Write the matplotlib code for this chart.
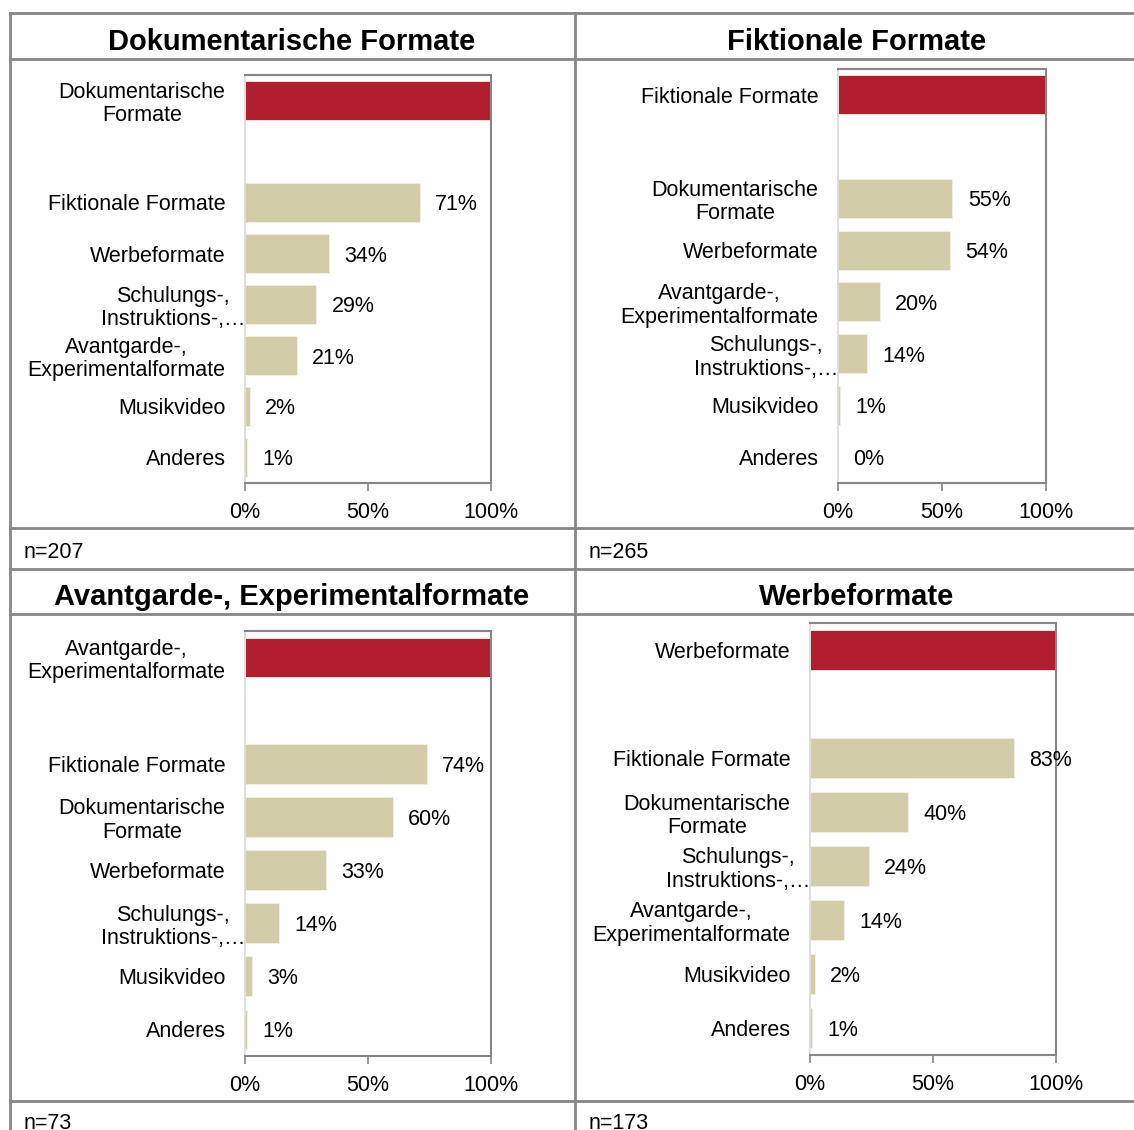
import numpy as np
import matplotlib.pyplot as plt
from matplotlib.lines import Line2D
from matplotlib.transforms import ScaledTranslation

plt.rcParams['font.family'] = ['Liberation Sans', 'DejaVu Sans']

W, H = 1134, 1130

titles = ['Dokumentarische Formate', 'Fiktionale Formate',
          'Avantgarde-, Experimentalformate', 'Werbeformate']
n_values = [207, 265, 73, 173]

# first entry of each list is the highlighted (red) category, then a gap
cats_dok = ['Dokumentarische\nFormate', 'Fiktionale Formate', 'Werbeformate',
            'Schulungs-,\nInstruktions-,…', 'Avantgarde-,\nExperimentalformate',
            'Musikvideo', 'Anderes']
vals_dok = [100, 71, 34, 29, 21, 2, 1]

cats_fik = ['Fiktionale Formate', 'Dokumentarische\nFormate', 'Werbeformate',
            'Avantgarde-,\nExperimentalformate', 'Schulungs-,\nInstruktions-,…',
            'Musikvideo', 'Anderes']
vals_fik = [100, 55, 54, 20, 14, 1, 0]

cats_ava = ['Avantgarde-,\nExperimentalformate', 'Fiktionale Formate',
            'Dokumentarische\nFormate', 'Werbeformate',
            'Schulungs-,\nInstruktions-,…', 'Musikvideo', 'Anderes']
vals_ava = [100, 74, 60, 33, 14, 3, 1]

cats_wer = ['Werbeformate', 'Fiktionale Formate', 'Dokumentarische\nFormate',
            'Schulungs-,\nInstruktions-,…', 'Avantgarde-,\nExperimentalformate',
            'Musikvideo', 'Anderes']
vals_wer = [100, 83, 40, 24, 14, 2, 1]

x_ticks = [0, 50, 100]
x_ticklabels = ['0%', '50%', '100%']

RED = '#b01e2f'
BEIGE = '#d2cda8'
GRID = '#868686'


def px_axes(fig, x0, y0, x1, y1, **kw):
    return fig.add_axes([x0 / W, 1 - y1 / H, (x1 - x0) / W, (y1 - y0) / H], **kw)


def draw_panel(fig, ax, cats, vals):
    pos = np.array([0] + list(range(2, len(cats) + 1)))
    colors = [RED] + [BEIGE] * (len(vals) - 1)
    ax.barh(pos, vals, height=0.75, color=colors, edgecolor='#f4f2e6', linewidth=0.6)
    for p, v in zip(pos[1:], vals[1:]):
        ax.annotate(f'{v}%', (v, p), xytext=(11, 0), textcoords='offset points',
                    va='center_baseline', ha='left', fontsize=15.5)
    ax.set_xlim(0, 100)
    ax.set_ylim(len(cats) + 0.5, -0.5)
    ax.set_yticks(pos)
    ax.set_yticklabels(cats, fontsize=15.5, multialignment='center', linespacing=1.15)
    ax.tick_params(axis='y', length=0, pad=14)
    # truncated labels run up to the axis line
    for lab in ax.get_yticklabels():
        if '…' in lab.get_text():
            lab.set_transform(lab.get_transform() + ScaledTranslation(0.2, 0, fig.dpi_scale_trans))
    ax.set_xticks(x_ticks)
    ax.set_xticklabels(x_ticklabels, fontsize=15.5)
    ax.tick_params(axis='x', length=6, width=1.2, color=GRID, pad=8)
    for s in ['top', 'right', 'bottom']:
        ax.spines[s].set_color(GRID)
        ax.spines[s].set_linewidth(1.5)
    ax.spines['left'].set_color('#d9d9d9')
    ax.spines['left'].set_linewidth(1.2)


fig = plt.figure(figsize=(W / 100, H / 100), dpi=100)

# table frame drawn in pixel coordinates
frame = fig.add_axes([0, 0, 1, 1], zorder=0)
frame.set_xlim(0, W)
frame.set_ylim(H, 0)
frame.axis('off')
for y in [13, 59, 528, 569, 614, 1101]:
    frame.add_line(Line2D([10, W], [y, y], color=GRID, lw=2))
for x in [10, 575]:
    frame.add_line(Line2D([x, x], [13, H], color=GRID, lw=2))

title_pos = [(292, 39), (857, 39), (292, 594), (857, 594)]
n_pos = [(24, 550), (589, 550), (24, 1121), (589, 1121)]
for (tx, ty), t in zip(title_pos, titles):
    frame.text(tx, ty, t, ha='center', va='center_baseline', fontsize=21, fontweight='bold')
for (nx, ny), n in zip(n_pos, n_values):
    frame.text(nx, ny, f'n={n}', ha='left', va='center_baseline', fontsize=15.5)

ax1 = px_axes(fig, 245, 75, 491, 483)
draw_panel(fig, ax1, cats_dok, vals_dok)
ax2 = px_axes(fig, 838, 69, 1046, 483)
draw_panel(fig, ax2, cats_fik, vals_fik)
ax3 = px_axes(fig, 245, 631, 491, 1056)
draw_panel(fig, ax3, cats_ava, vals_ava)
ax4 = px_axes(fig, 810, 623, 1056, 1055)
draw_panel(fig, ax4, cats_wer, vals_wer)

fig.savefig('out.png', dpi=100)
